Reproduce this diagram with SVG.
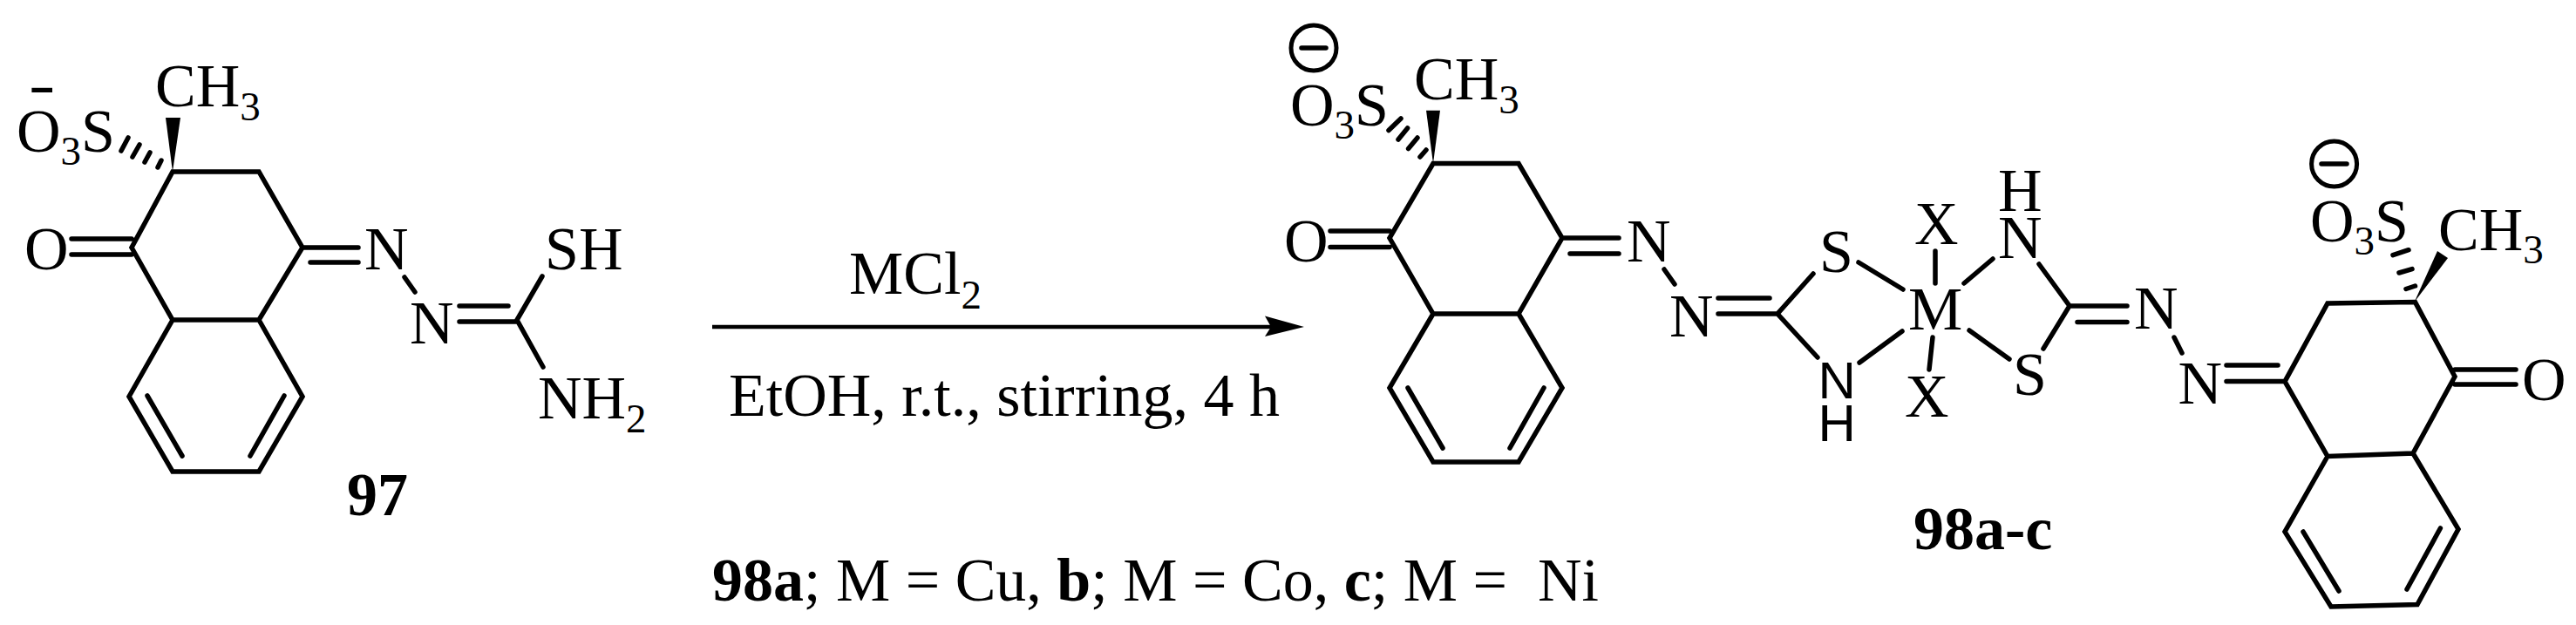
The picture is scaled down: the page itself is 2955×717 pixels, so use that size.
<svg xmlns="http://www.w3.org/2000/svg" width="2955" height="717" viewBox="0 0 2955 717">
<style>
.b{fill:none;stroke:#000;stroke-width:5.5;stroke-linecap:round;stroke-linejoin:miter}
.f{fill:#000;stroke:none}
text{font-family:"Liberation Serif","Times New Roman",serif;font-size:70px;fill:#000;white-space:pre}
text.n{font-family:"Liberation Sans",Arial,sans-serif;font-size:60px}
.s{font-size:47px}
.o{font-weight:bold}
.c{fill:none;stroke:#000;stroke-width:5}
</style>
<rect width="2955" height="717" fill="#fff"/>
<g id="compound-97">
<path class="b" d="M198 197H297L347 284L297 367H198L151 284ZM198 367L148 455L198 541H297L347 455L297 367M169 454L209 523M326 454L287 523M82 274H151M82 292H151M347 284H411M356 301H411M464 318L476 335M527 351H583M527 369H593M622 317L593 367L623 421"/>
<path class="f" d="M198 197L190 135H207Z"/>
<path class="b" d="M147 158L139 173M160 166L152 180M172 175L166 186M185 184L181 192"/>
<text transform="translate(33 120) scale(1.3 1)">-</text>
<text x="19" y="174">O<tspan class="s" dy="15">3</tspan><tspan dy="-15">S</tspan></text>
<text x="178" y="122">CH<tspan class="s" dy="16">3</tspan></text>
<text x="28" y="309">O</text>
<text x="418" y="309">N</text>
<text x="470" y="394">N</text>
<text x="625" y="309">SH</text>
<text x="617" y="480">NH<tspan class="s" dy="16">2</tspan></text>
<text class="o" x="398" y="591">97</text>
</g>
<g id="reaction-conditions">
<text x="974" y="337">MCl<tspan class="s" dy="17">2</tspan></text>
<text x="836" y="477">EtOH, r.t., stirring, 4 h</text>
<text x="817" y="689"><tspan class="o">98a</tspan>; M = Cu, <tspan class="o">b</tspan>; M = Co, <tspan class="o">c</tspan>; M =  Ni</text>
</g>
<g id="connectors">
<path d="M817 375H1460" fill="none" stroke="#000" stroke-width="4.5"/>
<path class="f" d="M1496 375L1451 362.6L1458 375L1451 386Z"/>
</g>
<g id="compound-98">
<path class="b" d="M1644 187.5H1742L1792 273L1742 360H1644L1594 273ZM1644 360L1594 445L1644 530H1742L1792 445L1742 360M1615 445L1655 514M1771 445L1732 514M1526 265H1594M1526 283.5H1594M1792 273H1857M1801 291H1857M1909 309L1921 326M1971 342H2030M1971 360H2039M2080 314L2039 360L2085 410M2132 301L2183 332M2133 416L2182 380M2220 288V325M2217 387L2213 424M2253 325L2286 297M2339 303L2374 351L2344 400M2259 379L2305 412M2374 351H2440M2383 369.5H2440M2494 387L2503 405M2554 419H2613M2554 437.6H2621M2621 437.6L2670 348L2770.5 346.6L2816 432L2768 520L2670 523.5L2621 437.6M2670 523.5L2621 610L2674 696L2773 693.6L2820 607L2768 520M2642 610L2683 678M2799.4 606L2761 676M2816 424H2886M2816 441H2886"/>
<path class="f" d="M1644 187.5L1636 126.7H1652Z"/>
<path class="f" d="M2769.6 346.6L2796 288L2808 296Z"/>
<path class="b" d="M1607 136L1593 149.5M1614.6 147L1604 160M1626 158L1615.6 170.6M1636 172L1629 180"/>
<path class="b" d="M2745 292.6L2763 286.7M2752 313L2767 308.6M2760 331.5L2770.5 328"/>
<ellipse class="c" cx="1507" cy="55" rx="26" ry="26"/>
<path class="b" d="M1493 55H1521"/>
<ellipse class="c" cx="2677.6" cy="188" rx="26" ry="26"/>
<path class="b" d="M2663 188H2692"/>
<text x="1480" y="144">O<tspan class="s" dy="15">3</tspan><tspan dy="-15">S</tspan></text>
<text x="1622" y="114">CH<tspan class="s" dy="16">3</tspan></text>
<text x="1473" y="299.5">O</text>
<text x="1866" y="299.5">N</text>
<text x="1915" y="385.5">N</text>
<text x="2087" y="312">S</text>
<text x="2189" y="378">M</text>
<text class="n" x="2085.5" y="457">N</text>
<text class="n" x="2085.5" y="506">H</text>
<text x="2196" y="280">X</text>
<text x="2185" y="477.7">X</text>
<text x="2292" y="242">H</text>
<text x="2292" y="296">N</text>
<text x="2309" y="453">S</text>
<text x="2448" y="377">N</text>
<text x="2498.5" y="463">N</text>
<text x="2893" y="458.6">O</text>
<text x="2650" y="276.6">O<tspan class="s" dy="15">3</tspan><tspan dy="-15">S</tspan></text>
<text x="2797" y="287">CH<tspan class="s" dy="15">3</tspan></text>
<text class="o" x="2195" y="630">98a-c</text>
</g>
</svg>
